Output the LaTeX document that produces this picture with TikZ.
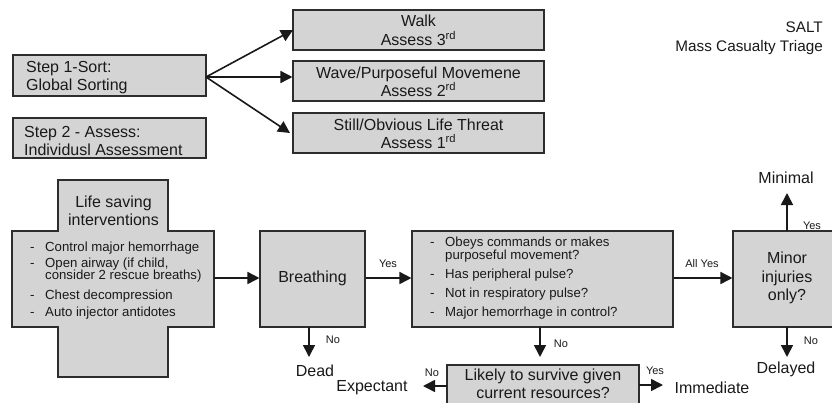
\documentclass[tikz,border=0pt]{standalone}
\usepackage{fontspec}
\setmainfont{Liberation Sans}
\usetikzlibrary{arrows.meta}
\definecolor{boxfill}{RGB}{212,212,212}
\definecolor{boxline}{RGB}{45,45,45}
\definecolor{ink}{RGB}{25,25,25}
\tikzset{
  box/.style={draw=boxline, fill=boxfill, line width=1.1bp, inner sep=0pt, rectangle},
  big/.style={font=\fontsize{16bp}{18.5bp}\selectfont, text=ink, inner sep=0pt, align=center},
  lefttxt/.style={font=\fontsize{16bp}{18.5bp}\selectfont, text=ink, inner sep=0pt, align=left, anchor=west},
  listtxt/.style={font=\fontsize{13.2bp}{10.8bp}\selectfont, text=ink, inner sep=0pt, anchor=base west},
  small/.style={font=\fontsize{11bp}{13bp}\selectfont, text=ink, inner sep=0pt},
  arr/.style={draw=ink, line width=1.6bp, -{Triangle[length=12bp,width=12bp]}},
}
\begin{document}
\begin{tikzpicture}[x=1bp,y=-1bp]
\useasboundingbox (0,0) rectangle (832,402);
\clip (0,0) rectangle (832,402);

% top boxes
\node[box, minimum width=193bp, minimum height=41bp] (step1) at (109.5,75.5) {};
\node[lefttxt] (step1t) at (26,77.5) {Step 1-Sort:\\Global Sorting};
\node[box, minimum width=193bp, minimum height=40bp] (step2) at (109.5,138) {};
\node[lefttxt] (step2t) at (24,141) {Step 2 - Assess:\\Individusl Assessment};

\node[box, minimum width=251bp, minimum height=40bp] (walk) at (418.5,30) {};
\node[big] (walkt) at (418.5,30.5) {Walk\\Assess 3\textsuperscript{rd}};
\node[box, minimum width=251bp, minimum height=40bp] (wave) at (418.5,81) {};
\node[big] (wavet) at (418.5,82) {Wave/Purposeful Movemene\\Assess 2\textsuperscript{rd}};
\node[box, minimum width=251bp, minimum height=40bp] (still) at (418.5,133) {};
\node[big] (stillt) at (418.5,134) {Still/Obvious Life Threat\\Assess 1\textsuperscript{rd}};

\coordinate (s1e) at (206,77);
\draw[arr] (s1e) -- (293,30);
\draw[arr] (s1e) -- (wave.west |- s1e);
\draw[arr] (s1e) -- (290,133);

\node[font=\fontsize{15.3bp}{19bp}\selectfont, text=ink, inner sep=0pt, align=right, anchor=east] (salt) at (823,38) {SALT\\Mass Casualty Triage};

% cross
\draw[draw=boxline, fill=boxfill, line width=1.1bp]
  (58,180) -- (168,180) -- (168,231) -- (214,231) -- (214,327) -- (168,327) -- (168,377)
  -- (58,377) -- (58,327) -- (12,327) -- (12,231) -- (58,231) -- cycle;
\coordinate (crossE) at (214,278);
\node[big] (lsi) at (113.5,211) {Life saving\\interventions};
\foreach \y/\t [count=\i] in {251.5/{Control major hemorrhage},267/{Open airway (if child,},299/{Chest decompression},316/{Auto injector antidotes}}{
  \node[listtxt] (cd\i) at (30,\y) {-};
  \node[listtxt] (ct\i) at (45,\y) {\t};
}
\node[listtxt] (ct2b) at (45,279.6) {consider 2 rescue breaths)};

% breathing
\node[box, minimum width=105bp, minimum height=96bp] (breath) at (312.5,279) {};
\node[big] (breatht) at (312.5,278) {Breathing};
\draw[arr] (crossE) -- (breath.west |- crossE);

% middle box
\node[box, minimum width=261bp, minimum height=96bp] (checks) at (542.5,279) {};
\foreach \y/\t [count=\i] in {246.5/{Obeys commands or makes},278.5/{Has peripheral pulse?},297.5/{Not in respiratory pulse?},316.5/{Major hemorrhage in control?}}{
  \node[listtxt] (md\i) at (430,\y) {-};
  \node[listtxt] (mt\i) at (445,\y) {\t};
}
\node[listtxt] (mt1b) at (445,259) {purposeful movement?};
\draw[arr] (breath.east |- crossE) -- (checks.west |- crossE);
\node[small] (yes1) at (388,264) {Yes};

% minor
\node[box, minimum width=112bp, minimum height=96bp] (minor) at (789,279) {};
\node[big] (minort) at (787,278) {Minor\\injuries\\only?};
\draw[arr] (checks.east |- crossE) -- (minor.west |- crossE);
\node[small] (allyes) at (702,264) {All Yes};

\coordinate (minTop) at (787,231);
\coordinate (minBot) at (787,327);
\coordinate (minimalC) at (787,193);
\coordinate (delayedC) at (787,357);
\draw[arr] (minTop) -- (minimalC);
\node[big] (minimal) at (786,178) {Minimal};
\node[small] (yes2) at (812,226) {Yes};
\draw[arr] (minBot) -- (delayedC);
\node[big] (delayed) at (786,369.5) {Delayed};
\node[small] (no3) at (811,341) {No};

% dead
\coordinate (brBot) at (309,327);
\coordinate (deadC) at (309,357);
\draw[arr] (brBot) -- (deadC);
\node[big] (dead) at (315,370.5) {Dead};
\node[small] (no1) at (333,340) {No};

% likely
\node[box, minimum width=192bp, minimum height=50bp] (likely) at (543,390) {};
\node[big] (likelyt) at (543,384) {Likely to survive given\\current resources?};
\coordinate (chBot) at (540,327);
\coordinate (chTip) at (540,357);
\draw[arr] (chBot) -- (chTip);
\node[small] (no2) at (561,344) {No};

\coordinate (likW) at (447,386);
\coordinate (expC) at (423,386);
\draw[arr] (likW) -- (expC);
\node[small] (no4) at (432,373) {No};
\node[big] (expectant) at (372,387.5) {Expectant};

\coordinate (likE) at (639,385);
\coordinate (immC) at (663,385);
\draw[arr] (likE) -- (immC);
\node[small] (yes3) at (655,371) {Yes};
\node[big] (immediate) at (712,387.5) {Immediate};
\end{tikzpicture}
\end{document}
